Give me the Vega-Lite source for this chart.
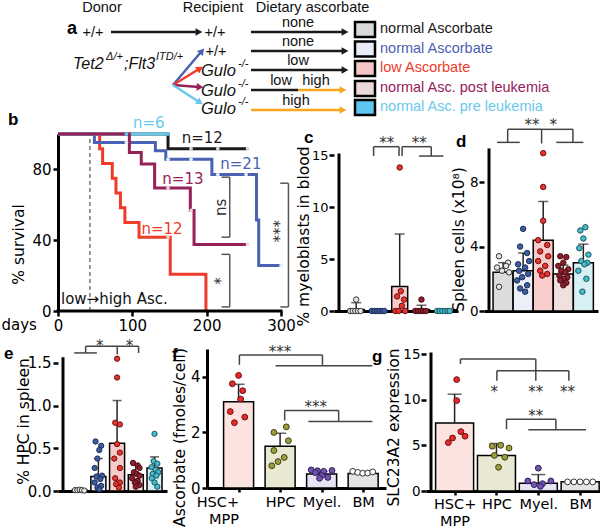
{
"$schema": "https://vega.github.io/schema/vega-lite/v6.json",
"background": "white",
"padding": 0,
"spacing": -9,
"config": {
  "font": "DejaVu Sans",
  "view": {"stroke": null},
  "axis": {"grid": false, "domainColor": "black", "domainWidth": 3, "tickColor": "black", "tickWidth": 2.5, "tickSize": 5, "labelFont": "DejaVu Sans", "labelFontSize": 15, "labelColor": "black", "labelPadding": 2, "labelFlush": false, "titleFont": "DejaVu Sans", "titleFontSize": 15.5, "titleFontWeight": "normal", "titleColor": "black", "titlePadding": 2},
  "title": {"font": "Liberation Sans", "fontSize": 17, "fontWeight": "bold", "color": "black", "anchor": "start", "frame": "group", "offset": 2}
},
"datasets": {
  "a_lines": [
    {"x": 53, "x2": 139, "y": 32, "y2": 32, "c": "none"},
    {"x": 193, "x2": 285, "y": 32, "y2": 32, "c": "none"},
    {"x": 193, "x2": 285, "y": 51, "y2": 51, "c": "none"},
    {"x": 193, "x2": 285, "y": 70, "y2": 70, "c": "none"},
    {"x": 193, "x2": 240, "y": 90, "y2": 90, "c": "none"},
    {"x": 240, "x2": 283, "y": 90, "y2": 90, "c": "high"},
    {"x": 193, "x2": 283, "y": 110, "y2": 110, "c": "high"},
    {"x": 115, "x2": 143, "y": 85, "y2": 52, "c": "normal"},
    {"x": 115, "x2": 141, "y": 85, "y2": 69, "c": "low"},
    {"x": 115, "x2": 141, "y": 85, "y2": 87, "c": "post"},
    {"x": 115, "x2": 141, "y": 85, "y2": 102, "c": "pre"}
  ],
  "a_heads": [
    {"x": 141, "y": 32, "c": "none"},
    {"x": 287, "y": 32, "c": "none"},
    {"x": 287, "y": 51, "c": "none"},
    {"x": 287, "y": 70, "c": "none"},
    {"x": 285, "y": 90, "c": "high"},
    {"x": 285, "y": 110, "c": "high"}
  ],
  "a_dheads": [
    {"x": 144, "y": 51, "c": "normal"},
    {"x": 142, "y": 68.5, "c": "low"},
    {"x": 142, "y": 87, "c": "post"},
    {"x": 142, "y": 102.5, "c": "pre"}
  ],
  "a_boxes": [
    {"x": 307, "y": 29.5, "c": "ctrl"},
    {"x": 307, "y": 49, "c": "normal"},
    {"x": 307, "y": 68.5, "c": "low"},
    {"x": 307, "y": 88.5, "c": "post"},
    {"x": 307, "y": 107.5, "c": "pre"}
  ],
  "a_leg": [
    {"x": 322, "y": 29, "c": "ctrl", "t": "normal Ascorbate"},
    {"x": 322, "y": 48.5, "c": "normal", "t": "normal Ascorbate"},
    {"x": 322, "y": 68, "c": "low", "t": "low Ascorbate"},
    {"x": 322, "y": 88, "c": "post", "t": "normal Asc. post leukemia"},
    {"x": 322, "y": 107, "c": "pre", "t": "normal Asc. pre leukemia"}
  ],
  "a_center": [
    {"x": 44, "y": 8, "t": "Donor"},
    {"x": 155, "y": 8, "t": "Recipient"},
    {"x": 254.5, "y": 8, "t": "Dietary ascorbate"},
    {"x": 35, "y": 33, "t": "+/+"},
    {"x": 157, "y": 33, "t": "+/+"},
    {"x": 158, "y": 51.5, "t": "+/+"},
    {"x": 240, "y": 23, "t": "none"},
    {"x": 240, "y": 42, "t": "none"},
    {"x": 240, "y": 61, "t": "low"},
    {"x": 223, "y": 81, "t": "low"},
    {"x": 258, "y": 81, "t": "high"},
    {"x": 238, "y": 101, "t": "high"}
  ],
  "a_gene": [
    {"x": 15, "y": 64, "t": "Tet2"},
    {"x": 66, "y": 64, "t": ";Flt3"}
  ],
  "a_gulo": [
    {"x": 143, "y": 71, "t": "Gulo"},
    {"x": 143, "y": 91, "t": "Gulo"},
    {"x": 143, "y": 109, "t": "Gulo"}
  ],
  "a_sup": [
    {"x": 48, "y": 56.5, "t": "Δ/+"},
    {"x": 98, "y": 56.5, "t": "ITD/+"},
    {"x": 180, "y": 63.5, "t": "-/-"},
    {"x": 180, "y": 83.5, "t": "-/-"},
    {"x": 180, "y": 101.5, "t": "-/-"}
  ],
  "surv": [
    {"grp": "ctrl", "day": 0, "surv": 100}, {"grp": "ctrl", "day": 148, "surv": 91.7}, {"grp": "ctrl", "day": 255, "surv": 91.7},
    {"grp": "low", "day": 0, "surv": 100}, {"grp": "low", "day": 56, "surv": 91.7}, {"grp": "low", "day": 60, "surv": 83.3}, {"grp": "low", "day": 73, "surv": 75}, {"grp": "low", "day": 78, "surv": 66.7}, {"grp": "low", "day": 84, "surv": 58.3}, {"grp": "low", "day": 90, "surv": 50}, {"grp": "low", "day": 109, "surv": 41.7}, {"grp": "low", "day": 151, "surv": 20.8}, {"grp": "low", "day": 199, "surv": 0},
    {"grp": "normal", "day": 0, "surv": 100}, {"grp": "normal", "day": 49, "surv": 95.2}, {"grp": "normal", "day": 131, "surv": 90.5}, {"grp": "normal", "day": 145, "surv": 85.7}, {"grp": "normal", "day": 207, "surv": 77.1}, {"grp": "normal", "day": 267, "surv": 51.4}, {"grp": "normal", "day": 270, "surv": 25.7}, {"grp": "normal", "day": 300, "surv": 25.7},
    {"grp": "pre", "day": 0, "surv": 100}, {"grp": "pre", "day": 148, "surv": 100},
    {"grp": "post", "day": 0, "surv": 100}, {"grp": "post", "day": 96, "surv": 89.5}, {"grp": "post", "day": 112, "surv": 83}, {"grp": "post", "day": 130, "surv": 69.5}, {"grp": "post", "day": 178, "surv": 56.8}, {"grp": "post", "day": 183, "surv": 37.6}, {"grp": "post", "day": 255, "surv": 37.6}
  ],
  "cens": [
    {"grp": "pre", "day": 92, "surv": 100}, {"grp": "pre", "day": 148, "surv": 100},
    {"grp": "ctrl", "day": 179, "surv": 91.7}, {"grp": "ctrl", "day": 215, "surv": 91.7}, {"grp": "ctrl", "day": 255, "surv": 91.7},
    {"grp": "normal", "day": 92, "surv": 95.2}, {"grp": "normal", "day": 148, "surv": 85.7}, {"grp": "normal", "day": 179, "surv": 85.7}, {"grp": "normal", "day": 215, "surv": 77.1}, {"grp": "normal", "day": 253, "surv": 77.1}, {"grp": "normal", "day": 300, "surv": 25.7},
    {"grp": "post", "day": 148, "surv": 69.5}, {"grp": "post", "day": 179, "surv": 56.8}, {"grp": "post", "day": 255, "surv": 37.6},
    {"grp": "low", "day": 148, "surv": 41.7}
  ],
  "nlab": [
    {"grp": "pre", "day": 122, "surv": 106, "t": "n=6"},
    {"grp": "ctrl", "day": 194, "surv": 97.5, "t": "n=12"},
    {"grp": "normal", "day": 246, "surv": 83, "t": "n=21"},
    {"grp": "post", "day": 168, "surv": 74.5, "t": "n=13"},
    {"grp": "low", "day": 140, "surv": 46.5, "t": "n=12"}
  ],
  "b_br": [
    {"x": 220, "x2": 231, "y": 75.6, "y2": 75.6}, {"x": 231, "x2": 231, "y": 75.6, "y2": 41.7}, {"x": 220, "x2": 231, "y": 41.7, "y2": 41.7},
    {"x": 220, "x2": 231, "y": 32, "y2": 32}, {"x": 231, "x2": 231, "y": 32, "y2": 2.3}, {"x": 220, "x2": 231, "y": 2.3, "y2": 2.3},
    {"x": 299, "x2": 310, "y": 72.2, "y2": 72.2}, {"x": 310, "x2": 310, "y": 72.2, "y2": 2.3}, {"x": 299, "x2": 310, "y": 2.3, "y2": 2.3}
  ],
  "b_sig": [
    {"x": 219, "y": 58.6, "t": "ns"},
    {"x": 219, "y": 17, "t": "*"},
    {"x": 299, "y": 45, "t": "***"}
  ],
  "c_bars": [
    {"grp": "ctrl", "g": 1, "mean": 0.15, "upper": 0.8},
    {"grp": "normal", "g": 2, "mean": 0, "upper": 0},
    {"grp": "low", "g": 3, "mean": 2.35, "upper": 7.4},
    {"grp": "post", "g": 4, "mean": 0.15, "upper": 0.55},
    {"grp": "pre", "g": 5, "mean": 0, "upper": 0}
  ],
  "c_pts": [
    {"grp": "ctrl", "x": 0.72, "v": 0}, {"grp": "ctrl", "x": 0.84, "v": 0}, {"grp": "ctrl", "x": 0.96, "v": 0}, {"grp": "ctrl", "x": 1.08, "v": 0}, {"grp": "ctrl", "x": 1.2, "v": 0}, {"grp": "ctrl", "x": 1.0, "v": 1.1},
    {"grp": "normal", "x": 1.72, "v": 0}, {"grp": "normal", "x": 1.84, "v": 0}, {"grp": "normal", "x": 1.96, "v": 0}, {"grp": "normal", "x": 2.08, "v": 0}, {"grp": "normal", "x": 2.2, "v": 0}, {"grp": "normal", "x": 2.3, "v": 0},
    {"grp": "low", "x": 3.0, "v": 13.8}, {"grp": "low", "x": 3.05, "v": 1.9}, {"grp": "low", "x": 2.88, "v": 1.4}, {"grp": "low", "x": 3.2, "v": 1.1}, {"grp": "low", "x": 3.1, "v": 0.5}, {"grp": "low", "x": 2.8, "v": 0}, {"grp": "low", "x": 2.95, "v": 0}, {"grp": "low", "x": 3.25, "v": 0},
    {"grp": "post", "x": 4.0, "v": 1.1}, {"grp": "post", "x": 3.72, "v": 0}, {"grp": "post", "x": 3.84, "v": 0}, {"grp": "post", "x": 3.96, "v": 0}, {"grp": "post", "x": 4.08, "v": 0}, {"grp": "post", "x": 4.2, "v": 0},
    {"grp": "pre", "x": 4.72, "v": 0}, {"grp": "pre", "x": 4.84, "v": 0}, {"grp": "pre", "x": 4.96, "v": 0}, {"grp": "pre", "x": 5.08, "v": 0}, {"grp": "pre", "x": 5.2, "v": 0}, {"grp": "pre", "x": 5.3, "v": 0}
  ],
  "c_br": [
    {"x": 1.8, "x2": 1.8, "y": 14.9, "y2": 15.8}, {"x": 1.8, "x2": 2.97, "y": 15.8, "y2": 15.8}, {"x": 2.97, "x2": 2.97, "y": 15.8, "y2": 14.9},
    {"x": 3.11, "x2": 4.45, "y": 15.8, "y2": 15.8}, {"x": 3.11, "x2": 3.11, "y": 15.8, "y2": 14.9}, {"x": 4.45, "x2": 4.45, "y": 15.8, "y2": 14.9}, {"x": 3.89, "x2": 5.01, "y": 14.9, "y2": 14.9}
  ],
  "c_st": [{"x": 2.4, "y": 16.5, "t": "**"}, {"x": 3.9, "y": 16.5, "t": "**"}],
  "d_bars": [
    {"grp": "ctrl", "g": 1, "mean": 2.4, "upper": 3.0},
    {"grp": "normal", "g": 2, "mean": 2.5, "upper": 3.6},
    {"grp": "low", "g": 3, "mean": 4.4, "upper": 6.8},
    {"grp": "post", "g": 4, "mean": 2.3, "upper": 2.85},
    {"grp": "pre", "g": 5, "mean": 3.0, "upper": 4.15}
  ],
  "d_pts": [
    {"grp": "ctrl", "x": 0.8, "v": 3.4}, {"grp": "ctrl", "x": 1.25, "v": 3.0}, {"grp": "ctrl", "x": 0.7, "v": 2.7}, {"grp": "ctrl", "x": 1.15, "v": 2.8}, {"grp": "ctrl", "x": 0.95, "v": 2.5}, {"grp": "ctrl", "x": 1.3, "v": 2.4}, {"grp": "ctrl", "x": 0.8, "v": 1.5},
    {"grp": "normal", "x": 2.0, "v": 5.1}, {"grp": "normal", "x": 1.85, "v": 4.0}, {"grp": "normal", "x": 2.2, "v": 3.6}, {"grp": "normal", "x": 2.3, "v": 3.1}, {"grp": "normal", "x": 1.75, "v": 2.9}, {"grp": "normal", "x": 2.1, "v": 2.7}, {"grp": "normal", "x": 1.8, "v": 2.5}, {"grp": "normal", "x": 2.25, "v": 2.3}, {"grp": "normal", "x": 1.95, "v": 2.1}, {"grp": "normal", "x": 1.7, "v": 1.9}, {"grp": "normal", "x": 2.2, "v": 1.6}, {"grp": "normal", "x": 1.85, "v": 1.4}, {"grp": "normal", "x": 2.1, "v": 1.2},
    {"grp": "low", "x": 3.0, "v": 9.8}, {"grp": "low", "x": 3.0, "v": 7.7}, {"grp": "low", "x": 3.0, "v": 5.6}, {"grp": "low", "x": 2.75, "v": 4.4}, {"grp": "low", "x": 3.2, "v": 4.1}, {"grp": "low", "x": 2.85, "v": 3.7}, {"grp": "low", "x": 3.25, "v": 3.4}, {"grp": "low", "x": 2.75, "v": 3.1}, {"grp": "low", "x": 3.1, "v": 2.8}, {"grp": "low", "x": 2.85, "v": 2.5}, {"grp": "low", "x": 3.2, "v": 2.3}, {"grp": "low", "x": 2.95, "v": 2.2},
    {"grp": "post", "x": 3.85, "v": 3.4}, {"grp": "post", "x": 4.15, "v": 3.35}, {"grp": "post", "x": 4.0, "v": 3.0}, {"grp": "post", "x": 3.75, "v": 2.8}, {"grp": "post", "x": 4.25, "v": 2.6}, {"grp": "post", "x": 3.9, "v": 2.5}, {"grp": "post", "x": 4.1, "v": 2.4}, {"grp": "post", "x": 3.8, "v": 2.2}, {"grp": "post", "x": 4.2, "v": 2.1}, {"grp": "post", "x": 4.0, "v": 2.0}, {"grp": "post", "x": 3.85, "v": 1.9}, {"grp": "post", "x": 4.15, "v": 1.75}, {"grp": "post", "x": 4.0, "v": 1.6},
    {"grp": "pre", "x": 5.1, "v": 5.2}, {"grp": "pre", "x": 4.85, "v": 5.0}, {"grp": "pre", "x": 5.0, "v": 4.5}, {"grp": "pre", "x": 4.8, "v": 3.9}, {"grp": "pre", "x": 5.25, "v": 3.5}, {"grp": "pre", "x": 4.9, "v": 3.1}, {"grp": "pre", "x": 5.2, "v": 3.0}, {"grp": "pre", "x": 5.05, "v": 2.9}, {"grp": "pre", "x": 4.75, "v": 2.5}, {"grp": "pre", "x": 5.15, "v": 2.0}, {"grp": "pre", "x": 4.95, "v": 1.2}
  ],
  "d_br": [
    {"x": 0.7, "x2": 1.83, "y": 10.47, "y2": 10.47}, {"x": 1.23, "x2": 1.23, "y": 10.47, "y2": 11.28}, {"x": 1.23, "x2": 2.92, "y": 11.28, "y2": 11.28},
    {"x": 2.92, "x2": 2.92, "y": 11.28, "y2": 10.4}, {"x": 2.92, "x2": 4.48, "y": 11.28, "y2": 11.28}, {"x": 4.48, "x2": 4.48, "y": 11.28, "y2": 10.47}, {"x": 3.65, "x2": 5.0, "y": 10.47, "y2": 10.47}
  ],
  "d_st": [{"x": 2.44, "y": 11.8, "t": "**"}, {"x": 3.5, "y": 11.8, "t": "*"}],
  "e_bars": [
    {"grp": "ctrl", "g": 1, "mean": 0.01, "upper": 0.02},
    {"grp": "normal", "g": 2, "mean": 0.17, "upper": 0.38},
    {"grp": "low", "g": 3, "mean": 0.56, "upper": 1.06},
    {"grp": "post", "g": 4, "mean": 0.19, "upper": 0.3},
    {"grp": "pre", "g": 5, "mean": 0.27, "upper": 0.4}
  ],
  "e_pts": [
    {"grp": "ctrl", "x": 0.75, "v": 0.01}, {"grp": "ctrl", "x": 0.88, "v": 0.01}, {"grp": "ctrl", "x": 1.0, "v": 0.015}, {"grp": "ctrl", "x": 1.12, "v": 0.01}, {"grp": "ctrl", "x": 1.25, "v": 0.005},
    {"grp": "normal", "x": 1.85, "v": 0.58}, {"grp": "normal", "x": 2.15, "v": 0.53}, {"grp": "normal", "x": 2.05, "v": 0.48}, {"grp": "normal", "x": 1.95, "v": 0.38}, {"grp": "normal", "x": 1.8, "v": 0.27}, {"grp": "normal", "x": 2.2, "v": 0.18}, {"grp": "normal", "x": 1.9, "v": 0.17}, {"grp": "normal", "x": 2.1, "v": 0.14}, {"grp": "normal", "x": 1.8, "v": 0.1}, {"grp": "normal", "x": 2.15, "v": 0.06}, {"grp": "normal", "x": 1.95, "v": 0.04}, {"grp": "normal", "x": 2.05, "v": 0.02},
    {"grp": "low", "x": 3.0, "v": 1.55}, {"grp": "low", "x": 3.0, "v": 1.33}, {"grp": "low", "x": 2.9, "v": 0.8}, {"grp": "low", "x": 3.15, "v": 0.78}, {"grp": "low", "x": 3.0, "v": 0.55}, {"grp": "low", "x": 3.15, "v": 0.45}, {"grp": "low", "x": 2.85, "v": 0.38}, {"grp": "low", "x": 3.15, "v": 0.27}, {"grp": "low", "x": 2.9, "v": 0.15}, {"grp": "low", "x": 3.15, "v": 0.1}, {"grp": "low", "x": 2.95, "v": 0.08}, {"grp": "low", "x": 3.1, "v": 0.04},
    {"grp": "post", "x": 3.85, "v": 0.33}, {"grp": "post", "x": 4.1, "v": 0.3}, {"grp": "post", "x": 4.2, "v": 0.27}, {"grp": "post", "x": 3.9, "v": 0.22}, {"grp": "post", "x": 4.05, "v": 0.2}, {"grp": "post", "x": 4.2, "v": 0.18}, {"grp": "post", "x": 3.8, "v": 0.15}, {"grp": "post", "x": 4.1, "v": 0.12}, {"grp": "post", "x": 3.95, "v": 0.1}, {"grp": "post", "x": 4.2, "v": 0.07}, {"grp": "post", "x": 4.0, "v": 0.05},
    {"grp": "pre", "x": 5.0, "v": 0.67}, {"grp": "pre", "x": 4.95, "v": 0.35}, {"grp": "pre", "x": 5.15, "v": 0.32}, {"grp": "pre", "x": 4.85, "v": 0.28}, {"grp": "pre", "x": 5.05, "v": 0.25}, {"grp": "pre", "x": 5.2, "v": 0.22}, {"grp": "pre", "x": 4.9, "v": 0.2}, {"grp": "pre", "x": 5.1, "v": 0.18}, {"grp": "pre", "x": 4.85, "v": 0.15}, {"grp": "pre", "x": 5.0, "v": 0.1}, {"grp": "pre", "x": 5.15, "v": 0.05}
  ],
  "e_br": [
    {"x": 0.71, "x2": 1.92, "y": 1.618, "y2": 1.618}, {"x": 1.32, "x2": 1.32, "y": 1.618, "y2": 1.696}, {"x": 1.32, "x2": 3.01, "y": 1.696, "y2": 1.696},
    {"x": 3.01, "x2": 3.01, "y": 1.696, "y2": 1.6}, {"x": 3.01, "x2": 4.15, "y": 1.696, "y2": 1.696}, {"x": 4.15, "x2": 4.15, "y": 1.696, "y2": 1.618}
  ],
  "e_st": [{"x": 2.08, "y": 1.75, "t": "*"}, {"x": 3.66, "y": 1.75, "t": "*"}],
  "f_bars": [
    {"cell": "HSC", "g": 1, "mean": 3.1, "upper": 3.73},
    {"cell": "HPC", "g": 2, "mean": 1.5, "upper": 1.97},
    {"cell": "Myel", "g": 3, "mean": 0.5, "upper": 0.6},
    {"cell": "BM", "g": 4, "mean": 0.52, "upper": 0.58}
  ],
  "f_pts": [
    {"cell": "HSC", "x": 1.0, "v": 4.05}, {"cell": "HSC", "x": 0.85, "v": 3.75}, {"cell": "HSC", "x": 1.1, "v": 3.5}, {"cell": "HSC", "x": 1.05, "v": 3.2}, {"cell": "HSC", "x": 0.8, "v": 2.75}, {"cell": "HSC", "x": 1.15, "v": 2.55}, {"cell": "HSC", "x": 0.9, "v": 2.35},
    {"cell": "HPC", "x": 2.15, "v": 2.2}, {"cell": "HPC", "x": 1.85, "v": 2.0}, {"cell": "HPC", "x": 2.2, "v": 1.7}, {"cell": "HPC", "x": 1.85, "v": 1.35}, {"cell": "HPC", "x": 2.1, "v": 1.1}, {"cell": "HPC", "x": 1.95, "v": 0.95}, {"cell": "HPC", "x": 1.8, "v": 0.8},
    {"cell": "Myel", "x": 2.75, "v": 0.65}, {"cell": "Myel", "x": 2.9, "v": 0.62}, {"cell": "Myel", "x": 3.05, "v": 0.6}, {"cell": "Myel", "x": 3.25, "v": 0.63}, {"cell": "Myel", "x": 2.85, "v": 0.55}, {"cell": "Myel", "x": 3.0, "v": 0.45}, {"cell": "Myel", "x": 3.15, "v": 0.38}, {"cell": "Myel", "x": 2.95, "v": 0.35},
    {"cell": "BM", "x": 3.75, "v": 0.6}, {"cell": "BM", "x": 3.87, "v": 0.56}, {"cell": "BM", "x": 3.99, "v": 0.53}, {"cell": "BM", "x": 4.11, "v": 0.54}, {"cell": "BM", "x": 4.23, "v": 0.58}
  ],
  "f_br": [
    {"x": 1.02, "x2": 1.02, "y": 4.43, "y2": 4.78}, {"x": 1.02, "x2": 3.02, "y": 4.78, "y2": 4.78}, {"x": 3.02, "x2": 3.02, "y": 4.78, "y2": 4.43}, {"x": 1.89, "x2": 4.22, "y": 4.4, "y2": 4.4},
    {"x": 2.11, "x2": 2.11, "y": 2.43, "y2": 2.79}, {"x": 2.11, "x2": 3.41, "y": 2.79, "y2": 2.79}, {"x": 3.41, "x2": 3.41, "y": 2.79, "y2": 2.39}, {"x": 2.68, "x2": 4.22, "y": 2.39, "y2": 2.39}
  ],
  "f_st": [{"x": 2.0, "y": 5.05, "t": "***"}, {"x": 2.86, "y": 3.05, "t": "***"}],
  "g_bars": [
    {"cell": "HSC", "g": 1, "mean": 7.45, "upper": 10.6},
    {"cell": "HPC", "g": 2, "mean": 3.9, "upper": 5.2},
    {"cell": "Myel", "g": 3, "mean": 0.85, "upper": 1.8},
    {"cell": "BM", "g": 4, "mean": 1.0, "upper": 1.0}
  ],
  "g_pts": [
    {"cell": "HSC", "x": 1.05, "v": 12.2}, {"cell": "HSC", "x": 1.05, "v": 9.9}, {"cell": "HSC", "x": 1.15, "v": 6.5}, {"cell": "HSC", "x": 1.25, "v": 6.0}, {"cell": "HSC", "x": 0.95, "v": 5.8}, {"cell": "HSC", "x": 0.85, "v": 5.3},
    {"cell": "HPC", "x": 2.1, "v": 5.0}, {"cell": "HPC", "x": 1.9, "v": 4.9}, {"cell": "HPC", "x": 2.3, "v": 4.7}, {"cell": "HPC", "x": 1.95, "v": 3.9}, {"cell": "HPC", "x": 2.2, "v": 3.7}, {"cell": "HPC", "x": 2.05, "v": 2.6},
    {"cell": "Myel", "x": 3.0, "v": 2.5}, {"cell": "Myel", "x": 2.75, "v": 1.1}, {"cell": "Myel", "x": 2.9, "v": 0.7}, {"cell": "Myel", "x": 3.1, "v": 0.8}, {"cell": "Myel", "x": 3.3, "v": 1.1}, {"cell": "Myel", "x": 3.05, "v": 0.5},
    {"cell": "BM", "x": 3.7, "v": 1.0}, {"cell": "BM", "x": 3.85, "v": 1.0}, {"cell": "BM", "x": 4.0, "v": 1.0}, {"cell": "BM", "x": 4.15, "v": 1.0}, {"cell": "BM", "x": 4.3, "v": 1.0}
  ],
  "g_br": [
    {"x": 1.14, "x2": 1.14, "y": 13.9, "y2": 14.45}, {"x": 1.14, "x2": 2.94, "y": 14.45, "y2": 14.45}, {"x": 2.94, "x2": 2.94, "y": 14.45, "y2": 12.07},
    {"x": 2.01, "x2": 3.73, "y": 13.17, "y2": 13.17}, {"x": 2.01, "x2": 2.01, "y": 13.17, "y2": 12.07}, {"x": 3.73, "x2": 3.73, "y": 13.17, "y2": 12.07},
    {"x": 2.24, "x2": 2.24, "y": 6.77, "y2": 7.87}, {"x": 2.24, "x2": 3.42, "y": 7.87, "y2": 7.87}, {"x": 3.42, "x2": 3.42, "y": 7.87, "y2": 6.7}, {"x": 2.76, "x2": 4.14, "y": 6.7, "y2": 6.7}
  ],
  "g_st": [{"x": 1.95, "y": 11.3, "t": "*"}, {"x": 2.94, "y": 11.3, "t": "**"}, {"x": 3.7, "y": 11.3, "t": "**"}, {"x": 2.94, "y": 8.7, "t": "**"}]
},
"vconcat": [
  {
    "width": 600, "height": 117,
    "encoding": {
      "x": {"field": "x", "type": "quantitative", "scale": {"domain": [0, 600], "nice": false, "zero": false}, "axis": null},
      "y": {"field": "y", "type": "quantitative", "scale": {"domain": [0, 117], "nice": false, "zero": false, "reverse": true}, "axis": null}
    },
    "layer": [
      {"data": {"name": "a_lines"}, "mark": {"type": "rule", "strokeWidth": 2.5},
       "encoding": {"x2": {"field": "x2"}, "y2": {"field": "y2"},
         "color": {"field": "c", "type": "nominal", "scale": {"domain": ["none", "high", "ctrl", "normal", "low", "post", "pre"], "range": ["#1a1a1a", "#f7a61e", "#1a1a1a", "#4a62b3", "#f03a2a", "#962058", "#6ac8ec"]}, "legend": null}}},
      {"data": {"name": "a_heads"}, "mark": {"type": "point", "shape": "triangle-right", "filled": true, "size": 60, "opacity": 1},
       "encoding": {"color": {"field": "c", "type": "nominal", "legend": null}}},
      {"data": {"name": "a_dheads"}, "transform": [{"filter": "datum.c == 'normal'"}], "mark": {"type": "point", "shape": "triangle-right", "filled": true, "size": 60, "opacity": 1, "angle": 311},
       "encoding": {"color": {"field": "c", "type": "nominal", "legend": null}}},
      {"data": {"name": "a_dheads"}, "transform": [{"filter": "datum.c == 'low'"}], "mark": {"type": "point", "shape": "triangle-right", "filled": true, "size": 60, "opacity": 1, "angle": 329},
       "encoding": {"color": {"field": "c", "type": "nominal", "legend": null}}},
      {"data": {"name": "a_dheads"}, "transform": [{"filter": "datum.c == 'post'"}], "mark": {"type": "point", "shape": "triangle-right", "filled": true, "size": 60, "opacity": 1, "angle": 4},
       "encoding": {"color": {"field": "c", "type": "nominal", "legend": null}}},
      {"data": {"name": "a_dheads"}, "transform": [{"filter": "datum.c == 'pre'"}], "mark": {"type": "point", "shape": "triangle-right", "filled": true, "size": 60, "opacity": 1, "angle": 33},
       "encoding": {"color": {"field": "c", "type": "nominal", "legend": null}}},
      {"data": {"name": "a_boxes"}, "mark": {"type": "point", "shape": "M-1,-0.75L1,-0.75L1,0.75L-1,0.75Z", "size": 400, "filled": true, "opacity": 1, "stroke": "black", "strokeWidth": 2.5},
       "encoding": {"fill": {"field": "c", "type": "nominal", "scale": {"domain": ["ctrl", "normal", "low", "post", "pre"], "range": ["#d9d9d9", "#e9ebf7", "#f6c5c5", "#ecd8da", "#5ec6ef"]}, "legend": null}}},
      {"data": {"name": "a_leg"}, "mark": {"type": "text", "font": "Liberation Sans", "fontSize": 14.5, "align": "left", "baseline": "middle"},
       "encoding": {"text": {"field": "t"}, "color": {"field": "c", "type": "nominal", "legend": null}}},
      {"data": {"name": "a_center"}, "mark": {"type": "text", "font": "Liberation Sans", "fontSize": 14.5, "align": "center", "baseline": "middle", "color": "#111"},
       "encoding": {"text": {"field": "t"}}},
      {"data": {"name": "a_gene"}, "mark": {"type": "text", "font": "Liberation Sans", "fontSize": 16, "fontStyle": "italic", "align": "left", "baseline": "middle", "color": "#111"},
       "encoding": {"text": {"field": "t"}}},
      {"data": {"name": "a_gulo"}, "mark": {"type": "text", "font": "Liberation Sans", "fontSize": 16.5, "fontStyle": "italic", "align": "left", "baseline": "middle", "color": "#111"},
       "encoding": {"text": {"field": "t"}}},
      {"data": {"name": "a_sup"}, "mark": {"type": "text", "font": "Liberation Sans", "fontSize": 11, "fontStyle": "italic", "align": "left", "baseline": "middle", "color": "#111"},
       "encoding": {"text": {"field": "t"}}},
      {"data": {"values": [{"x": 14, "y": 29, "t": "a"}]}, "mark": {"type": "text", "font": "Liberation Sans", "fontSize": 18, "fontWeight": "bold", "align": "center", "baseline": "middle", "color": "black"},
       "encoding": {"text": {"field": "t"}}}
    ]
  },
  {
    "hconcat": [
      {
        "width": 250, "height": 177,
        "title": {"text": "b", "dx": -50, "dy": 15},
        "layer": [
          {"data": {"values": [{"day": 43}]}, "mark": {"type": "rule", "strokeDash": [4, 3], "strokeWidth": 1, "color": "#333"},
           "encoding": {"x": {"field": "day", "type": "quantitative"}, "y": {"datum": 0, "type": "quantitative"}, "y2": {"datum": 100}}},
          {"data": {"name": "surv"}, "mark": {"type": "line", "interpolate": "step-after", "strokeWidth": 3},
           "encoding": {
             "x": {"field": "day", "type": "quantitative", "scale": {"domain": [0, 336.3], "nice": false, "zero": false}, "axis": {"values": [0, 100, 200, 300], "domain": false, "title": "days", "titleAngle": 0, "titleX": -39.3, "titleY": 6, "titleAlign": "center", "titleBaseline": "top", "titleFontSize": 15}},
             "y": {"field": "surv", "type": "quantitative", "scale": {"domain": [0, 100], "nice": false}, "axis": {"values": [0, 20, 40, 60, 80, 100], "title": "% survival", "titleX": -32, "titleY": 110}},
             "color": {"field": "grp", "type": "nominal", "scale": {"domain": ["ctrl", "low", "normal", "pre", "post"], "range": ["#111111", "#f0302a", "#3a5bb5", "#6cc8ef", "#8e1a55"]}, "legend": null}
           }},
          {"data": {"values": [{}]}, "mark": {"type": "rule", "strokeWidth": 3, "color": "black", "strokeCap": "square"},
           "encoding": {"x": {"datum": 0, "type": "quantitative"}, "x2": {"datum": 300}, "y": {"datum": 0, "type": "quantitative"}}},
          {"data": {"name": "cens"}, "mark": {"type": "point", "filled": true, "size": 14, "opacity": 1},
           "encoding": {"x": {"field": "day", "type": "quantitative"}, "y": {"field": "surv", "type": "quantitative"},
             "fill": {"field": "grp", "type": "nominal", "scale": {"domain": ["ctrl", "low", "normal", "pre", "post"], "range": ["#9a9a9a", "#111111", "#111111", "#888888", "#111111"]}, "legend": null}}},
          {"data": {"name": "nlab"}, "mark": {"type": "text", "fontSize": 15, "align": "center", "baseline": "middle"},
           "encoding": {"x": {"field": "day", "type": "quantitative"}, "y": {"field": "surv", "type": "quantitative"}, "text": {"field": "t"}, "color": {"field": "grp", "type": "nominal", "legend": null}}},
          {"data": {"values": [{"day": 4, "surv": 7, "t": "low→high Asc."}]}, "mark": {"type": "text", "fontSize": 15, "align": "left", "baseline": "middle", "color": "#111"},
           "encoding": {"x": {"field": "day", "type": "quantitative"}, "y": {"field": "surv", "type": "quantitative"}, "text": {"field": "t"}}},
          {"data": {"name": "b_br"}, "mark": {"type": "rule", "strokeWidth": 1.5, "color": "#555"},
           "encoding": {"x": {"field": "x", "type": "quantitative"}, "x2": {"field": "x2"}, "y": {"field": "y", "type": "quantitative"}, "y2": {"field": "y2"}}},
          {"data": {"name": "b_sig"}, "mark": {"type": "text", "fontSize": 15, "angle": 270, "align": "center", "baseline": "middle", "color": "#333"},
           "encoding": {"x": {"field": "x", "type": "quantitative"}, "y": {"field": "y", "type": "quantitative"}, "text": {"field": "t"}}}
        ]
      },
      {
        "width": 124, "height": 177,
        "title": {"text": "c", "dx": -30, "dy": 15},
        "resolve": {"scale": {"color": "independent", "fill": "independent", "stroke": "independent"}},
        "layer": [
          {"data": {"name": "c_bars"}, "mark": {"type": "bar", "width": 16, "stroke": "black", "strokeWidth": 1.5},
           "encoding": {
             "x": {"field": "g", "type": "quantitative", "scale": {"domain": [0.21, 5.45], "nice": false, "zero": false}, "axis": {"labels": false, "ticks": false, "title": null}},
             "y": {"field": "mean", "type": "quantitative", "scale": {"domain": [0, 17.02], "nice": false}, "axis": {"domain": false, "values": [0, 5, 10, 15], "labelFontSize": 13, "labelPadding": 1, "title": "% myeloblasts in blood", "titleX": -23, "titleY": 102}},
             "color": {"field": "grp", "type": "nominal", "scale": {"domain": ["ctrl", "normal", "low", "post", "pre"], "range": ["#dcdcdc", "#eceef8", "#f9cccc", "#f1e0e0", "#d7f0f4"]}, "legend": null}
           }},
          {"data": {"values": [{}]}, "mark": {"type": "rule", "strokeWidth": 3, "color": "black", "strokeCap": "square"},
           "encoding": {"x": {"datum": 0.21, "type": "quantitative"}, "y": {"datum": 0, "type": "quantitative"}, "y2": {"datum": 15}}},
          {"data": {"name": "c_bars"}, "mark": {"type": "rule", "strokeWidth": 1.5, "color": "#222"},
           "encoding": {"x": {"field": "g", "type": "quantitative"}, "y": {"field": "mean", "type": "quantitative"}, "y2": {"field": "upper"}}},
          {"data": {"name": "c_bars"}, "mark": {"type": "tick", "orient": "horizontal", "size": 10, "thickness": 1.5, "color": "#222"},
           "encoding": {"x": {"field": "g", "type": "quantitative"}, "y": {"field": "upper", "type": "quantitative"}}},
          {"data": {"name": "c_pts"}, "mark": {"type": "point", "filled": true, "size": 30, "strokeWidth": 1, "opacity": 1},
           "encoding": {"x": {"field": "x", "type": "quantitative"}, "y": {"field": "v", "type": "quantitative"},
             "fill": {"field": "grp", "type": "nominal", "scale": {"domain": ["ctrl", "normal", "low", "post", "pre"], "range": ["#e6e6e6", "#3d5d9e", "#e8352d", "#8d1f2d", "#45bccb"]}, "legend": null},
             "stroke": {"field": "grp", "type": "nominal", "scale": {"domain": ["ctrl", "normal", "low", "post", "pre"], "range": ["#333333", "#1c2e5a", "#6a1010", "#4a0d15", "#1d5560"]}, "legend": null}}},
          {"data": {"name": "c_br"}, "mark": {"type": "rule", "strokeWidth": 1.5, "color": "#444"},
           "encoding": {"x": {"field": "x", "type": "quantitative"}, "x2": {"field": "x2"}, "y": {"field": "y", "type": "quantitative"}, "y2": {"field": "y2"}}},
          {"data": {"name": "c_st"}, "mark": {"type": "text", "fontSize": 15, "dy": 4, "color": "#333"},
           "encoding": {"x": {"field": "x", "type": "quantitative"}, "y": {"field": "y", "type": "quantitative"}, "text": {"field": "t"}}}
        ]
      },
      {
        "width": 114, "height": 177,
        "title": {"text": "d", "dx": -28, "dy": 35},
        "resolve": {"scale": {"color": "independent", "fill": "independent", "stroke": "independent"}},
        "layer": [
          {"data": {"name": "d_bars"}, "mark": {"type": "bar", "width": 20, "stroke": "black", "strokeWidth": 1.5},
           "encoding": {
             "x": {"field": "g", "type": "quantitative", "scale": {"domain": [0.3, 5.48], "nice": false, "zero": false}, "axis": {"labels": false, "ticks": false, "title": null}},
             "y": {"field": "mean", "type": "quantitative", "scale": {"domain": [0, 10.99], "nice": false}, "axis": {"domain": false, "values": [0, 2, 4, 6, 8, 10], "labelFontSize": 13.5, "labelPadding": 1, "title": "Spleen cells (x10⁸)", "titleX": -18, "titleY": 105}},
             "color": {"field": "grp", "type": "nominal", "scale": {"domain": ["ctrl", "normal", "low", "post", "pre"], "range": ["#dcdcdc", "#eceef8", "#f9cccc", "#f1e0e0", "#d7f0f4"]}, "legend": null}
           }},
          {"data": {"values": [{}]}, "mark": {"type": "rule", "strokeWidth": 3, "color": "black", "strokeCap": "square"},
           "encoding": {"x": {"datum": 0.3, "type": "quantitative"}, "y": {"datum": 0, "type": "quantitative"}, "y2": {"datum": 10}}},
          {"data": {"name": "d_bars"}, "mark": {"type": "rule", "strokeWidth": 1.5, "color": "#222"},
           "encoding": {"x": {"field": "g", "type": "quantitative"}, "y": {"field": "mean", "type": "quantitative"}, "y2": {"field": "upper"}}},
          {"data": {"name": "d_bars"}, "mark": {"type": "tick", "orient": "horizontal", "size": 10, "thickness": 1.5, "color": "#222"},
           "encoding": {"x": {"field": "g", "type": "quantitative"}, "y": {"field": "upper", "type": "quantitative"}}},
          {"data": {"name": "d_pts"}, "mark": {"type": "point", "filled": true, "size": 30, "strokeWidth": 1, "opacity": 1},
           "encoding": {"x": {"field": "x", "type": "quantitative"}, "y": {"field": "v", "type": "quantitative"},
             "fill": {"field": "grp", "type": "nominal", "scale": {"domain": ["ctrl", "normal", "low", "post", "pre"], "range": ["#e6e6e6", "#3d5d9e", "#e8352d", "#8d1f2d", "#45bccb"]}, "legend": null},
             "stroke": {"field": "grp", "type": "nominal", "scale": {"domain": ["ctrl", "normal", "low", "post", "pre"], "range": ["#333333", "#1c2e5a", "#6a1010", "#4a0d15", "#1d5560"]}, "legend": null}}},
          {"data": {"name": "d_br"}, "mark": {"type": "rule", "strokeWidth": 1.5, "color": "#444"},
           "encoding": {"x": {"field": "x", "type": "quantitative"}, "x2": {"field": "x2"}, "y": {"field": "y", "type": "quantitative"}, "y2": {"field": "y2"}}},
          {"data": {"name": "d_st"}, "mark": {"type": "text", "fontSize": 15, "dy": 4, "color": "#333"},
           "encoding": {"x": {"field": "x", "type": "quantitative"}, "y": {"field": "y", "type": "quantitative"}, "text": {"field": "t"}}}
        ]
      }
    ],
    "spacing": 26,
    "bounds": "flush"
  },
  {
    "hconcat": [
      {
        "width": 109, "height": 142,
        "title": {"text": ["", "e"], "lineHeight": 20, "dx": -54, "dy": 26},
        "resolve": {"scale": {"color": "independent", "fill": "independent", "stroke": "independent"}},
        "layer": [
          {"data": {"name": "e_bars"}, "mark": {"type": "bar", "width": 15, "stroke": "black", "strokeWidth": 1.5},
           "encoding": {
             "x": {"field": "g", "type": "quantitative", "scale": {"domain": [0.11, 5.4], "nice": false, "zero": false}, "axis": {"labels": false, "ticks": false, "title": null}},
             "y": {"field": "mean", "type": "quantitative", "scale": {"domain": [0, 1.664], "nice": false}, "axis": {"domain": false, "values": [0, 0.5, 1, 1.5], "format": ".1f", "title": "% HPC in spleen", "titleX": -27, "titleY": 72}},
             "color": {"field": "grp", "type": "nominal", "scale": {"domain": ["ctrl", "normal", "low", "post", "pre"], "range": ["#dcdcdc", "#eceef8", "#f9cccc", "#f1e0e0", "#d7f0f4"]}, "legend": null}
           }},
          {"data": {"values": [{}]}, "mark": {"type": "rule", "strokeWidth": 3, "color": "black", "strokeCap": "square"},
           "encoding": {"x": {"datum": 0.11, "type": "quantitative"}, "y": {"datum": 0, "type": "quantitative"}, "y2": {"datum": 1.55}}},
          {"data": {"name": "e_bars"}, "mark": {"type": "rule", "strokeWidth": 1.5, "color": "#222"},
           "encoding": {"x": {"field": "g", "type": "quantitative"}, "y": {"field": "mean", "type": "quantitative"}, "y2": {"field": "upper"}}},
          {"data": {"name": "e_bars"}, "mark": {"type": "tick", "orient": "horizontal", "size": 9, "thickness": 1.5, "color": "#222"},
           "encoding": {"x": {"field": "g", "type": "quantitative"}, "y": {"field": "upper", "type": "quantitative"}}},
          {"data": {"name": "e_pts"}, "mark": {"type": "point", "filled": true, "size": 28, "strokeWidth": 1, "opacity": 1},
           "encoding": {"x": {"field": "x", "type": "quantitative"}, "y": {"field": "v", "type": "quantitative"},
             "fill": {"field": "grp", "type": "nominal", "scale": {"domain": ["ctrl", "normal", "low", "post", "pre"], "range": ["#e6e6e6", "#3d5d9e", "#e8352d", "#8d1f2d", "#45bccb"]}, "legend": null},
             "stroke": {"field": "grp", "type": "nominal", "scale": {"domain": ["ctrl", "normal", "low", "post", "pre"], "range": ["#333333", "#1c2e5a", "#6a1010", "#4a0d15", "#1d5560"]}, "legend": null}}},
          {"data": {"name": "e_br"}, "mark": {"type": "rule", "strokeWidth": 1.5, "color": "#444"},
           "encoding": {"x": {"field": "x", "type": "quantitative"}, "x2": {"field": "x2"}, "y": {"field": "y", "type": "quantitative"}, "y2": {"field": "y2"}}},
          {"data": {"name": "e_st"}, "mark": {"type": "text", "fontSize": 15, "dy": 4, "color": "#333"},
           "encoding": {"x": {"field": "x", "type": "quantitative"}, "y": {"field": "y", "type": "quantitative"}, "text": {"field": "t"}}}
        ]
      },
      {
        "width": 179, "height": 139,
        "title": {"text": "f", "dx": -35, "dy": 21},
        "resolve": {"scale": {"color": "independent", "fill": "independent", "stroke": "independent"}},
        "layer": [
          {"data": {"name": "f_bars"}, "mark": {"type": "bar", "width": 30, "stroke": "black", "strokeWidth": 1.5},
           "encoding": {
             "x": {"field": "g", "type": "quantitative", "scale": {"domain": [0.36, 4.43], "nice": false, "zero": false},
                   "axis": {"values": [1, 2, 3, 4], "tickSize": 4, "title": null, "labelLineHeight": 17, "labelBaseline": "top", "labelFontSize": 14.5, "labelPadding": 3,
                            "labelAlign": {"condition": {"test": "datum.value == 1", "value": "right"}, "value": "center"},
                            "labelExpr": "datum.value == 1 ? ['HSC+', 'MPP'] : datum.value == 2 ? 'HPC' : datum.value == 3 ? 'Myel.' : 'BM'"}},
             "y": {"field": "mean", "type": "quantitative", "scale": {"domain": [0, 5], "nice": false}, "axis": {"values": [0, 1, 2, 3, 4, 5], "title": "Ascorbate (fmoles/cell)", "titleX": -20, "titleY": 88}},
             "color": {"field": "cell", "type": "nominal", "scale": {"domain": ["HSC", "HPC", "Myel", "BM"], "range": ["#fde3df", "#e9e9d3", "#e7e4f3", "#e4e4e4"]}, "legend": null}
           }},
          {"data": {"name": "f_bars"}, "mark": {"type": "rule", "strokeWidth": 1.5, "color": "#222"},
           "encoding": {"x": {"field": "g", "type": "quantitative"}, "y": {"field": "mean", "type": "quantitative"}, "y2": {"field": "upper"}}},
          {"data": {"name": "f_bars"}, "mark": {"type": "tick", "orient": "horizontal", "size": 12, "thickness": 1.5, "color": "#222"},
           "encoding": {"x": {"field": "g", "type": "quantitative"}, "y": {"field": "upper", "type": "quantitative"}}},
          {"data": {"name": "f_pts"}, "mark": {"type": "point", "filled": true, "size": 34, "strokeWidth": 1, "opacity": 1},
           "encoding": {"x": {"field": "x", "type": "quantitative"}, "y": {"field": "v", "type": "quantitative"},
             "fill": {"field": "cell", "type": "nominal", "scale": {"domain": ["HSC", "HPC", "Myel", "BM"], "range": ["#e8282a", "#9e9e3c", "#7552b0", "#ffffff"]}, "legend": null},
             "stroke": {"field": "cell", "type": "nominal", "scale": {"domain": ["HSC", "HPC", "Myel", "BM"], "range": ["#6d1010", "#3d3d10", "#2e1e5a", "#333333"]}, "legend": null}}},
          {"data": {"name": "f_br"}, "mark": {"type": "rule", "strokeWidth": 1.5, "color": "#444"},
           "encoding": {"x": {"field": "x", "type": "quantitative"}, "x2": {"field": "x2"}, "y": {"field": "y", "type": "quantitative"}, "y2": {"field": "y2"}}},
          {"data": {"name": "f_st"}, "mark": {"type": "text", "fontSize": 15, "dy": 4, "color": "#333"},
           "encoding": {"x": {"field": "x", "type": "quantitative"}, "y": {"field": "y", "type": "quantitative"}, "text": {"field": "t"}}}
        ]
      },
      {
        "width": 178, "height": 142,
        "title": {"text": "g", "dx": -54, "dy": 21},
        "resolve": {"scale": {"color": "independent", "fill": "independent", "stroke": "independent"}},
        "layer": [
          {"data": {"name": "g_bars"}, "mark": {"type": "bar", "width": 38, "stroke": "black", "strokeWidth": 1.5},
           "encoding": {
             "x": {"field": "g", "type": "quantitative", "scale": {"domain": [0.436, 4.45], "nice": false, "zero": false},
                   "axis": {"values": [1, 2, 3, 4], "tickSize": 4, "title": null, "labelLineHeight": 17, "labelBaseline": "top", "labelFontSize": 14.5, "labelPadding": 2,
                            "labelExpr": "datum.value == 1 ? ['HSC+', 'MPP'] : datum.value == 2 ? 'HPC' : datum.value == 3 ? 'Myel.' : 'BM'"}},
             "y": {"field": "mean", "type": "quantitative", "scale": {"domain": [0, 15.55], "nice": false}, "axis": {"domain": false, "values": [0, 5, 10, 15], "labelFontSize": 13.5, "labelPadding": 1, "title": "SLC23A2 expression", "titleX": -24.5, "titleY": 78}},
             "color": {"field": "cell", "type": "nominal", "scale": {"domain": ["HSC", "HPC", "Myel", "BM"], "range": ["#fde3df", "#e9e9d3", "#e7e4f3", "#e4e4e4"]}, "legend": null}
           }},
          {"data": {"values": [{}]}, "mark": {"type": "rule", "strokeWidth": 3, "color": "black", "strokeCap": "square"},
           "encoding": {"x": {"datum": 0.436, "type": "quantitative"}, "y": {"datum": 0, "type": "quantitative"}, "y2": {"datum": 15}}},
          {"data": {"name": "g_bars"}, "mark": {"type": "rule", "strokeWidth": 1.5, "color": "#222"},
           "encoding": {"x": {"field": "g", "type": "quantitative"}, "y": {"field": "mean", "type": "quantitative"}, "y2": {"field": "upper"}}},
          {"data": {"name": "g_bars"}, "mark": {"type": "tick", "orient": "horizontal", "size": 14, "thickness": 1.5, "color": "#222"},
           "encoding": {"x": {"field": "g", "type": "quantitative"}, "y": {"field": "upper", "type": "quantitative"}}},
          {"data": {"name": "g_pts"}, "mark": {"type": "point", "filled": true, "size": 34, "strokeWidth": 1, "opacity": 1},
           "encoding": {"x": {"field": "x", "type": "quantitative"}, "y": {"field": "v", "type": "quantitative"},
             "fill": {"field": "cell", "type": "nominal", "scale": {"domain": ["HSC", "HPC", "Myel", "BM"], "range": ["#e8282a", "#9e9e3c", "#7552b0", "#ffffff"]}, "legend": null},
             "stroke": {"field": "cell", "type": "nominal", "scale": {"domain": ["HSC", "HPC", "Myel", "BM"], "range": ["#6d1010", "#3d3d10", "#2e1e5a", "#333333"]}, "legend": null}}},
          {"data": {"name": "g_br"}, "mark": {"type": "rule", "strokeWidth": 1.5, "color": "#444"},
           "encoding": {"x": {"field": "x", "type": "quantitative"}, "x2": {"field": "x2"}, "y": {"field": "y", "type": "quantitative"}, "y2": {"field": "y2"}}},
          {"data": {"name": "g_st"}, "mark": {"type": "text", "fontSize": 15, "dy": 4, "color": "#333"},
           "encoding": {"x": {"field": "x", "type": "quantitative"}, "y": {"field": "y", "type": "quantitative"}, "text": {"field": "t"}}}
        ]
      }
    ],
    "spacing": 40,
    "bounds": "flush"
  }
]
}
